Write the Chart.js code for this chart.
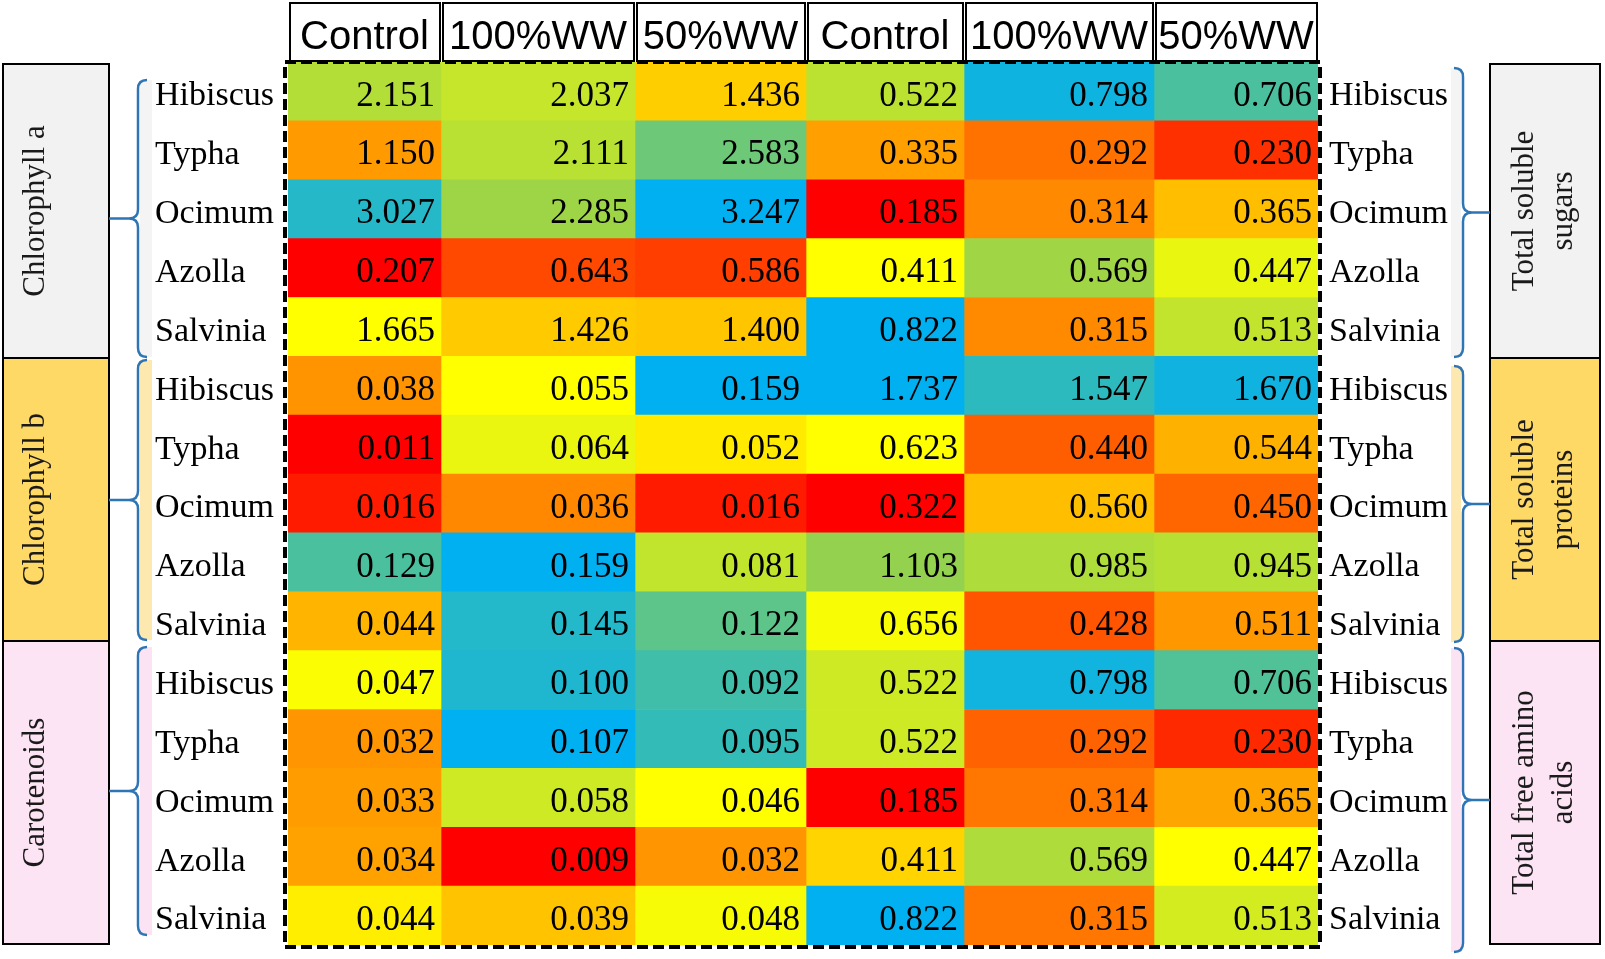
<!DOCTYPE html>
<html>
<head>
<meta charset="utf-8">
<title>Pigments and metabolites heatmap</title>
<script src="https://cdn.jsdelivr.net/npm/chart.js@4.4.1/dist/chart.umd.min.js"></script>
<style>
  html, body { margin: 0; padding: 0; background: #fff; }
  #wrap { width: 1605px; height: 959px; }
</style>
</head>
<body>
<div id="wrap"><canvas id="heatmap" width="1605" height="959"></canvas></div>
<script>
// ---- data ----
const treatments = ["Control", "100%WW", "50%WW", "Control", "100%WW", "50%WW"];
const plants = ["Hibiscus", "Typha", "Ocimum", "Azolla", "Salvinia"];
const pigmentGroups = ["Chlorophyll a", "Chlorophyll b", "Carotenoids"];
const metaboliteGroups = [["Total soluble", "sugars"], ["Total soluble", "proteins"], ["Total free amino", "acids"]];

// rows = plants; first 3 columns = pigment, last 3 = metabolite
const chlorophyllA = [
  [2.151, 2.037, 1.436, 0.522, 0.798, 0.706],
  [1.150, 2.111, 2.583, 0.335, 0.292, 0.230],
  [3.027, 2.285, 3.247, 0.185, 0.314, 0.365],
  [0.207, 0.643, 0.586, 0.411, 0.569, 0.447],
  [1.665, 1.426, 1.400, 0.822, 0.315, 0.513]
];
const chlorophyllB = [
  [0.038, 0.055, 0.159, 1.737, 1.547, 1.670],
  [0.011, 0.064, 0.052, 0.623, 0.440, 0.544],
  [0.016, 0.036, 0.016, 0.322, 0.560, 0.450],
  [0.129, 0.159, 0.081, 1.103, 0.985, 0.945],
  [0.044, 0.145, 0.122, 0.656, 0.428, 0.511]
];
const carotenoids = [
  [0.047, 0.100, 0.092, 0.522, 0.798, 0.706],
  [0.032, 0.107, 0.095, 0.522, 0.292, 0.230],
  [0.033, 0.058, 0.046, 0.185, 0.314, 0.365],
  [0.034, 0.009, 0.032, 0.411, 0.569, 0.447],
  [0.044, 0.039, 0.048, 0.822, 0.315, 0.513]
];

// ---- layout / style ----
const colWidths = [153, 194, 171, 158, 190, 164]; // table column widths (px)
const colorStops = [[0, "#FF0000"], [0.4, "#FFC000"], [0.5, "#FFFF00"], [0.72, "#92D050"], [1, "#00B0F0"]];
const groupFills = ["#F2F2F2", "#FFD966", "#FCE4F5"];
const stripFills = ["#F4F4F4", "#FDE9B0", "#FBE3F3"];
const braceColor = "#2E75B6";
const serif = "'Liberation Serif', 'Times New Roman', serif";
const sans = "'Liberation Sans', Arial, sans-serif";

const groupValues = [chlorophyllA, chlorophyllB, carotenoids];
const rowLabels = [].concat(plants, plants, plants);
const edges = [0];
colWidths.forEach(w => edges.push(edges[edges.length - 1] + w));

const cellValue = (r, c) => groupValues[Math.floor(r / plants.length)][r % plants.length][c];

// colour scale per block (group x half): min -> median -> max, like a spreadsheet colour scale
function blockStats(g, h) {
  const vals = [];
  groupValues[g].forEach(row => row.slice(h * 3, h * 3 + 3).forEach(v => vals.push(v)));
  vals.sort((a, b) => a - b);
  return { min: vals[0], med: vals[Math.floor(vals.length / 2)], max: vals[vals.length - 1] };
}
const stats = groupValues.map((_, g) => [blockStats(g, 0), blockStats(g, 1)]);

function hexToRgb(h) {
  return [parseInt(h.slice(1, 3), 16), parseInt(h.slice(3, 5), 16), parseInt(h.slice(5, 7), 16)];
}
function colorAt(t) {
  for (let i = 1; i < colorStops.length; i++) {
    if (t <= colorStops[i][0]) {
      const [t0, c0] = colorStops[i - 1];
      const [t1, c1] = colorStops[i];
      const f = (t - t0) / (t1 - t0);
      const a = hexToRgb(c0), b = hexToRgb(c1);
      const m = a.map((v, k) => Math.round(v + (b[k] - v) * f));
      return "rgb(" + m.join(",") + ")";
    }
  }
  return colorStops[colorStops.length - 1][1];
}
function cellColor(r, c) {
  const s = stats[Math.floor(r / plants.length)][c < 3 ? 0 : 1];
  const v = cellValue(r, c);
  let t;
  if (v <= s.med) t = s.med === s.min ? 0.5 : 0.5 * (v - s.min) / (s.med - s.min);
  else t = 0.5 + 0.5 * (v - s.med) / (s.max - s.med);
  return colorAt(Math.max(0, Math.min(1, t)));
}

// ---- drawing helpers ----
const sideBoxY = [[64, 358], [358, 641], [641, 944]];
const leftBraceY = [[80, 357], [360, 640], [647, 935]];
const rightBraceY = [[68, 357], [366, 642], [648, 952]];

function drawBrace(ctx, x, y0, y1, dir, tipX) {
  const ym = (y0 + y1) / 2;
  const c = 9;
  ctx.beginPath();
  ctx.moveTo(x - dir * c, y0);
  ctx.quadraticCurveTo(x, y0, x, y0 + c);
  ctx.lineTo(x, ym - c);
  ctx.quadraticCurveTo(x, ym, x + dir * c, ym);
  ctx.quadraticCurveTo(x, ym, x, ym + c);
  ctx.lineTo(x, y1 - c);
  ctx.quadraticCurveTo(x, y1, x - dir * c, y1);
  ctx.moveTo(x + dir * c, ym);
  ctx.lineTo(tipX, ym);
  ctx.stroke();
}

const decorations = {
  id: "decorations",
  beforeDraw(chart) {
    const ctx = chart.ctx;
    const xs = chart.scales.x;
    ctx.save();
    // header boxes behind the column labels
    ctx.strokeStyle = "#000";
    ctx.lineWidth = 2;
    for (let j = 0; j < treatments.length; j++) {
      const x0 = xs.getPixelForValue(edges[j]) + 2;
      const x1 = xs.getPixelForValue(edges[j + 1]) - 1;
      ctx.fillStyle = "#fff";
      ctx.fillRect(x0, 3, x1 - x0, 58);
      ctx.strokeRect(x0, 3, x1 - x0, 58);
    }
    // side boxes, strips and braces
    for (let g = 0; g < 3; g++) {
      const [b0, b1] = sideBoxY[g];
      ctx.fillStyle = stripFills[g];
      ctx.fillRect(140, leftBraceY[g][0], 12, leftBraceY[g][1] - leftBraceY[g][0]);
      ctx.fillRect(1451, rightBraceY[g][0], 10, rightBraceY[g][1] - rightBraceY[g][0]);

      ctx.fillStyle = groupFills[g];
      ctx.lineWidth = 2;
      ctx.strokeStyle = "#000";
      ctx.fillRect(3, b0, 106, b1 - b0);
      ctx.strokeRect(3, b0, 106, b1 - b0);
      ctx.fillRect(1490, b0, 110, b1 - b0);
      ctx.strokeRect(1490, b0, 110, b1 - b0);

      ctx.strokeStyle = braceColor;
      ctx.lineWidth = 2.5;
      drawBrace(ctx, 138, leftBraceY[g][0], leftBraceY[g][1], -1, 109);
      drawBrace(ctx, 1463, rightBraceY[g][0], rightBraceY[g][1], 1, 1490);

      // rotated titles
      ctx.fillStyle = "#1a1a1a";
      ctx.font = "31px " + serif;
      ctx.textAlign = "center";
      ctx.textBaseline = "middle";
      ctx.save();
      ctx.translate(36, (b0 + b1) / 2);
      ctx.rotate(-Math.PI / 2);
      ctx.fillText(pigmentGroups[g], 0, 0);
      ctx.restore();
      ctx.save();
      ctx.translate(1544, (b0 + b1) / 2);
      ctx.rotate(-Math.PI / 2);
      const lines = metaboliteGroups[g];
      lines.forEach((t, k) => ctx.fillText(t, 0, (k - (lines.length - 1) / 2) * 39));
      ctx.restore();
    }
    ctx.restore();
  },
  afterDatasetsDraw(chart) {
    const ctx = chart.ctx;
    ctx.save();
    // cell values
    ctx.fillStyle = "#000";
    ctx.font = "35px " + serif;
    ctx.textAlign = "right";
    ctx.textBaseline = "middle";
    chart.data.datasets.forEach((ds, j) => {
      chart.getDatasetMeta(j).data.forEach((bar, r) => {
        const right = Math.max(bar.x, bar.base);
        ctx.fillText(cellValue(r, j).toFixed(3), right - 6, bar.y + 5);
      });
    });
    // dashed frame
    const a = chart.chartArea;
    ctx.strokeStyle = "#000";
    ctx.lineWidth = 4;
    ctx.setLineDash([11, 5]);
    ctx.strokeRect(a.left - 3, a.top, a.right - a.left + 5, a.bottom - a.top + 2);
    ctx.restore();
  }
};

const datasets = treatments.map((name, j) => ({
  label: name,
  data: rowLabels.map(() => [edges[j], edges[j + 1]]),
  backgroundColor: rowLabels.map((_, r) => cellColor(r, j)),
  borderWidth: 0,
  barPercentage: 1,
  categoryPercentage: 1,
  grouped: false
}));

const noPad = (scale) => {
  scale.paddingTop = 0; scale.paddingBottom = 0;
  scale.paddingLeft = 0; scale.paddingRight = 0;
};

new Chart(document.getElementById("heatmap"), {
  type: "bar",
  data: { labels: rowLabels, datasets },
  options: {
    responsive: false,
    animation: false,
    events: [],
    indexAxis: "y",
    layout: { padding: { left: 155, right: 0, top: 0, bottom: 14 } },
    plugins: { legend: { display: false }, tooltip: { enabled: false } },
    scales: {
      x: {
        type: "linear",
        position: "top",
        min: 0,
        max: edges[edges.length - 1],
        grid: { display: false },
        border: { display: false },
        afterBuildTicks: (scale) => {
          scale.ticks = treatments.map((_, j) => ({ value: (edges[j] + edges[j + 1]) / 2 }));
        },
        afterFit: (scale) => { scale.height = 62; noPad(scale); },
        ticks: {
          autoSkip: false,
          maxRotation: 0,
          padding: -8,
          color: "#000",
          font: { family: sans, size: 40 },
          callback: (v, i) => treatments[i]
        }
      },
      y: {
        type: "category",
        position: "left",
        grid: { display: false },
        border: { display: false },
        afterFit: (scale) => { scale.width = 133; noPad(scale); },
        ticks: {
          autoSkip: false,
          crossAlign: "far",
          labelOffset: 5,
          color: "#000",
          font: { family: serif, size: 34 }
        }
      },
      y2: {
        type: "category",
        position: "right",
        labels: rowLabels,
        offset: true,
        min: 0,
        max: rowLabels.length - 1,
        grid: { display: false },
        border: { display: false },
        afterFit: (scale) => { scale.width = 287; noPad(scale); },
        ticks: {
          autoSkip: false,
          crossAlign: "near",
          padding: 3,
          labelOffset: 5,
          color: "#000",
          font: { family: serif, size: 34 }
        }
      }
    }
  },
  plugins: [decorations]
});
</script>
</body>
</html>
